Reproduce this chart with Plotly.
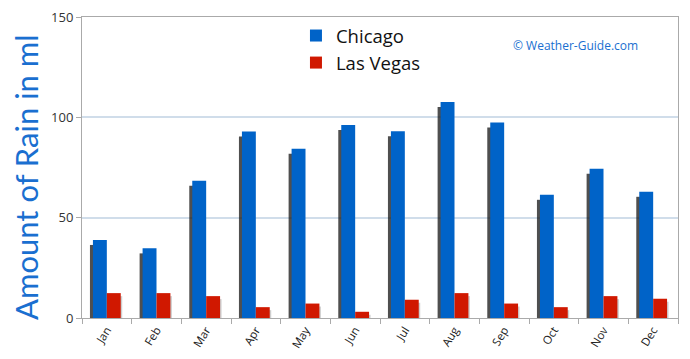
import plotly.graph_objects as go

months = ["Jan", "Feb", "Mar", "Apr", "May", "Jun", "Jul", "Aug", "Sep", "Oct", "Nov", "Dec"]
chicago = [38.9, 34.7, 68.4, 92.9, 84.4, 96.2, 93.1, 107.6, 97.4, 61.4, 74.4, 62.9]
las_vegas = [12.4, 12.4, 10.9, 5.4, 7.2, 3.1, 9.1, 12.4, 7.2, 5.4, 10.9, 9.6]
y_ticks = [0, 50, 100, 150]

BLUE = "#0063C8"
RED = "#D01800"
BW = 0.28

fig = go.Figure()
# soft shadow behind the Chicago bars
fig.add_trace(go.Bar(x=months, y=[v - 2.5 for v in chicago], offset=-BW - 0.06, width=0.12,
                     marker=dict(color="rgba(20,20,20,0.75)", line=dict(width=0)),
                     showlegend=False, hoverinfo="skip"))
fig.add_trace(go.Bar(x=months, y=[v - 1.5 for v in las_vegas], offset=BW - 0.04, width=0.07,
                     marker=dict(color="rgba(60,60,60,0.25)", line=dict(width=0)),
                     showlegend=False, hoverinfo="skip"))
fig.add_trace(go.Bar(x=months, y=chicago, name="Chicago", offset=-BW, width=BW,
                     marker=dict(color=BLUE, line=dict(width=0))))
fig.add_trace(go.Bar(x=months, y=las_vegas, name="Las Vegas", offset=0, width=BW,
                     marker=dict(color=RED, line=dict(width=0))))

fig.update_layout(
    width=690, height=359,
    margin=dict(l=82, r=12, t=17, b=41),
    paper_bgcolor="white", plot_bgcolor="white",
    barmode="overlay",
    font=dict(family="Open Sans, DejaVu Sans, sans-serif", color="#333333"),
    showlegend=True,
    legend=dict(x=0.359, y=1.0, xanchor="left", yanchor="top",
                font=dict(size=18.5, color="#111111"), bgcolor="rgba(0,0,0,0)",
                itemsizing="constant", tracegroupgap=4, itemwidth=30),
    xaxis=dict(type="category", tickson="boundaries", ticks="outside", ticklen=5,
               tickcolor="#AAAAAA", tickangle=-58, tickfont=dict(size=11.5, color="#222222"),
               showline=True, linecolor="#AAAAAA", mirror=True, showgrid=False,
               range=[-0.5, 11.5], automargin=False),
    yaxis=dict(range=[0, 150], tickvals=y_ticks, ticks="outside", ticklen=5,
               tickcolor="#AAAAAA", tickfont=dict(size=13, color="#333333"),
               showline=True, linecolor="#AAAAAA", mirror=True,
               showgrid=True, gridcolor="#D0DDEA", gridwidth=1.5, zeroline=False,
               automargin=False),
    annotations=[
        dict(text="Amount of Rain in ml", textangle=-90, xref="paper", yref="paper",
             x=-0.093, y=0.467, xanchor="center", yanchor="middle", showarrow=False,
             font=dict(size=31, color="#1A6FD0", family="Lato, Open Sans, sans-serif")),
        dict(text="© Weather-Guide.com", xref="paper", yref="paper",
             x=0.72, y=0.905, xanchor="left", yanchor="middle", showarrow=False,
             font=dict(size=12, color="#1A6FD0")),
    ],
)

fig.write_html("out.html", config={"displayModeBar": False},
               post_script="document.body.style.margin='0';")
